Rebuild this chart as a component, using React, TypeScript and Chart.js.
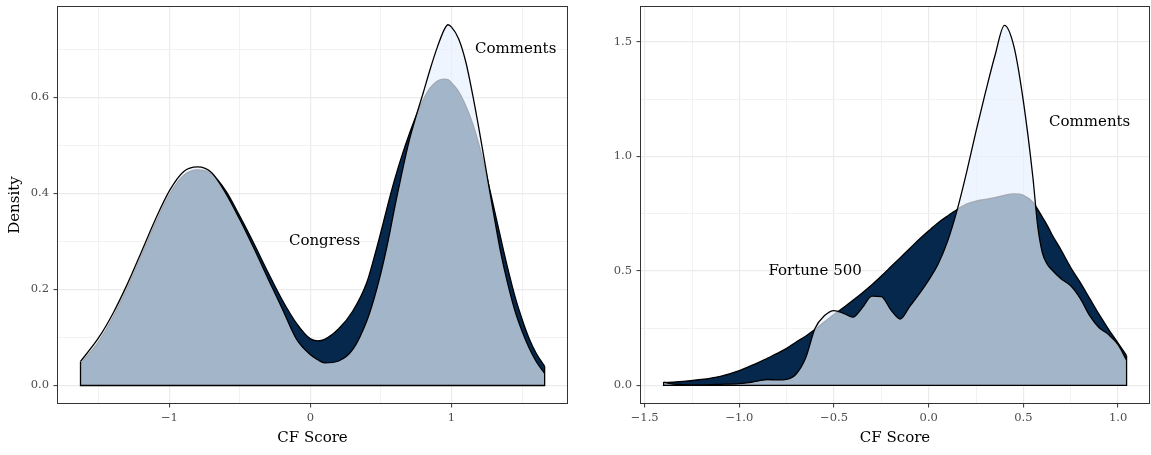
import React, { useEffect, useRef } from 'react';
import { Chart, registerables } from 'chart.js';

Chart.register(...registerables);

const FONT = "'DejaVu Serif', serif";

// ---------- Left panel: Congress vs Comments ----------
const leftX = [
  -1.63, -1.5, -1.4, -1.3, -1.2, -1.1, -1.0, -0.9, -0.8, -0.7, -0.6, -0.5, -0.4, -0.3, -0.2, -0.1,
  0.0, 0.05, 0.1, 0.2, 0.3, 0.4, 0.45, 0.5, 0.55, 0.6, 0.65, 0.7, 0.75, 0.8, 0.85, 0.9, 0.95, 0.975,
  1.0, 1.05, 1.1, 1.15, 1.2, 1.25, 1.3, 1.35, 1.4, 1.45, 1.5, 1.55, 1.6, 1.66,
];
const leftCongress = [
  0.045, 0.092, 0.142, 0.202, 0.269, 0.337, 0.397, 0.437, 0.449, 0.44, 0.405, 0.352, 0.295, 0.235, 0.178, 0.13,
  0.097, 0.093, 0.096, 0.118, 0.155, 0.215, 0.265, 0.32, 0.378, 0.432, 0.48, 0.523, 0.562, 0.595, 0.62, 0.634, 0.638, 0.637,
  0.63, 0.612, 0.583, 0.545, 0.495, 0.435, 0.37, 0.305, 0.242, 0.185, 0.138, 0.098, 0.067, 0.04,
];
const leftComments = [
  0.05, 0.1, 0.15, 0.21, 0.277, 0.345, 0.405, 0.445, 0.455, 0.443, 0.4, 0.345, 0.285, 0.222, 0.16, 0.097,
  0.064, 0.054, 0.047, 0.051, 0.075, 0.135, 0.18, 0.235, 0.3, 0.375, 0.445, 0.51, 0.562, 0.61, 0.66, 0.705, 0.742, 0.751,
  0.746, 0.722, 0.675, 0.605, 0.525, 0.44, 0.355, 0.275, 0.21, 0.155, 0.113, 0.078, 0.05, 0.025,
];
const leftXTicks = [-1.5, -1, -0.5, 0, 0.5, 1, 1.5];
const leftXLabels = ['', '\u22121', '', '0', '', '1', ''];
const leftYTicks = [0, 0.1, 0.2, 0.3, 0.4, 0.5, 0.6, 0.7];
const leftYLabels = ['0.0', '', '0.2', '', '0.4', '', '0.6', ''];
const leftNotes = ['Comments', 'Congress'];
const leftNoteX = [1.455, 0.1];
const leftNoteY = [0.7, 0.3];

// ---------- Right panel: Fortune 500 vs Comments ----------
const rightX = [
  -1.4, -1.35, -1.3, -1.2, -1.1, -1.0, -0.95, -0.9, -0.85, -0.8, -0.75, -0.7, -0.65, -0.6, -0.55, -0.5,
  -0.45, -0.4, -0.35, -0.3, -0.25, -0.2, -0.15, -0.1, -0.05, 0.0, 0.05, 0.1, 0.15, 0.2, 0.25, 0.3, 0.35,
  0.4, 0.45, 0.5, 0.55, 0.575, 0.6, 0.625, 0.65, 0.7, 0.75, 0.8, 0.85, 0.9, 0.95, 1.0, 1.045,
];
const rightFortune = [
  0.012, 0.015, 0.018, 0.026, 0.04, 0.065, 0.082, 0.1, 0.12, 0.14, 0.162, 0.19, 0.215, 0.245, 0.278, 0.31,
  0.34, 0.372, 0.405, 0.44, 0.478, 0.518, 0.558, 0.598, 0.638, 0.675, 0.71, 0.74, 0.768, 0.792, 0.805, 0.812, 0.82,
  0.83, 0.836, 0.83, 0.8, 0.77, 0.735, 0.7, 0.66, 0.59, 0.515, 0.45, 0.38, 0.31, 0.245, 0.185, 0.13,
];
const rightComments = [
  0.015, 0.006, 0.004, 0.003, 0.005, 0.008, 0.012, 0.02, 0.026, 0.024, 0.027, 0.05, 0.12, 0.25, 0.305, 0.327,
  0.315, 0.298, 0.34, 0.39, 0.388, 0.33, 0.29, 0.345, 0.4, 0.46, 0.53, 0.63, 0.765, 0.93, 1.11, 1.28, 1.44,
  1.572, 1.48, 1.24, 0.91, 0.7, 0.58, 0.53, 0.505, 0.465, 0.435, 0.38, 0.305, 0.252, 0.222, 0.178, 0.11,
];
const rightXTicks = [-1.5, -1.25, -1.0, -0.75, -0.5, -0.25, 0, 0.25, 0.5, 0.75, 1.0];
const rightXLabels = ['\u22121.5', '', '\u22121.0', '', '\u22120.5', '', '0.0', '', '0.5', '', '1.0'];
const rightYTicks = [0, 0.25, 0.5, 0.75, 1.0, 1.25, 1.5];
const rightYLabels = ['0.0', '', '0.5', '', '1.0', '', '1.5'];
const rightNotes = ['Comments', 'Fortune 500'];
const rightNoteX = [0.85, -0.6];
const rightNoteY = [1.15, 0.5];

const DARK = '#05284c';
const LIGHT = 'rgba(231,241,255,0.7)';

type PanelCfg = {
  xs: number[];
  dark: number[];
  light: number[];
  xMin: number;
  xMax: number;
  yMin: number;
  yMax: number;
  xTicks: number[];
  xLabels: string[];
  yTicks: number[];
  yLabels: string[];
  notes: string[];
  noteX: number[];
  noteY: number[];
  yTitle: string | null;
  yAxisWidth: number;
  rightPad: number;
};

function makeChart(canvas: HTMLCanvasElement, c: PanelCfg) {
  const pts = (ys: number[]) => c.xs.map((x, i) => ({ x, y: ys[i] }));
  const n = c.xs.length;
  const frame = [
    { x: c.xs[0], y: Math.max(c.dark[0], c.light[0]) },
    { x: c.xs[0], y: 0 },
    { x: c.xs[n - 1], y: 0 },
    { x: c.xs[n - 1], y: Math.max(c.dark[n - 1], c.light[n - 1]) },
  ];

  const notesPlugin = {
    id: 'notes',
    afterDatasetsDraw(chart: any) {
      const { ctx, scales } = chart;
      ctx.save();
      ctx.font = `15px ${FONT}`;
      ctx.fillStyle = '#000';
      ctx.textAlign = 'center';
      ctx.textBaseline = 'middle';
      c.notes.forEach((t, i) => {
        ctx.fillText(t, scales.x.getPixelForValue(c.noteX[i]), scales.y.getPixelForValue(c.noteY[i]));
      });
      ctx.restore();
    },
  };
  const borderPlugin = {
    id: 'panelBorder',
    afterDraw(chart: any) {
      const { ctx, chartArea: a } = chart;
      ctx.save();
      ctx.strokeStyle = '#333333';
      ctx.lineWidth = 1;
      ctx.strokeRect(a.left, a.top, a.right - a.left, a.bottom - a.top);
      ctx.restore();
    },
  };
  const bgPlugin = {
    id: 'bg',
    beforeDraw(chart: any) {
      const { ctx } = chart;
      ctx.save();
      ctx.fillStyle = '#fff';
      ctx.fillRect(0, 0, chart.width, chart.height);
      ctx.restore();
    },
  };

  const gridFor = (labels: string[]) => ({
    color: (ctx: any) => (labels[ctx.index] ? '#ebebeb' : '#f2f2f2'),
    lineWidth: (ctx: any) => (labels[ctx.index] ? 1.2 : 1),
    tickColor: (ctx: any) => (labels[ctx.index] ? '#333333' : 'rgba(0,0,0,0)'),
    tickWidth: 1,
    tickLength: 4,
    drawTicks: true,
  });

  return new Chart(canvas, {
    type: 'line',
    data: {
      datasets: [
        {
          label: 'frame',
          data: frame,
          borderColor: '#000',
          borderWidth: 1.3,
          fill: false,
          pointRadius: 0,
          tension: 0,
          order: 0,
        },
        {
          label: 'light',
          data: pts(c.light),
          borderColor: '#000',
          borderWidth: 1.3,
          backgroundColor: LIGHT,
          fill: 'origin',
          pointRadius: 0,
          cubicInterpolationMode: 'monotone',
          order: 1,
        },
        {
          label: 'dark',
          data: pts(c.dark),
          borderColor: '#000',
          borderWidth: 1.3,
          backgroundColor: DARK,
          fill: 'origin',
          pointRadius: 0,
          cubicInterpolationMode: 'monotone',
          order: 2,
        },
      ],
    } as any,
    options: {
      responsive: false,
      maintainAspectRatio: false,
      animation: false,
      devicePixelRatio: 1,
      layout: { padding: { top: 6.5, right: c.rightPad, left: 0, bottom: 0 } },
      plugins: { legend: { display: false }, tooltip: { enabled: false } },
      scales: {
        x: {
          type: 'linear',
          min: c.xMin,
          max: c.xMax,
          afterBuildTicks: (s: any) => {
            s.ticks = c.xTicks.map((v) => ({ value: v }));
          },
          afterFit: (s: any) => {
            s.height = 51.5;
            s.paddingLeft = 0;
            s.paddingRight = 0;
            s.paddingTop = 0;
            s.paddingBottom = 0;
          },
          ticks: {
            autoSkip: false,
            maxRotation: 0,
            padding: 4,
            color: '#4d4d4d',
            font: { family: FONT, size: 11.5 },
            callback: (_v: any, i: number) => c.xLabels[i],
          },
          grid: gridFor(c.xLabels),
          border: { display: false },
          title: {
            display: true,
            text: 'CF Score',
            color: '#000',
            font: { family: FONT, size: 15 },
            padding: { top: 0, bottom: 8 },
          },
        },
        y: {
          type: 'linear',
          min: c.yMin,
          max: c.yMax,
          afterBuildTicks: (s: any) => {
            s.ticks = c.yTicks.map((v) => ({ value: v }));
          },
          afterFit: (s: any) => {
            s.width = c.yAxisWidth;
            s.paddingLeft = 0;
            s.paddingRight = 0;
            s.paddingTop = 0;
            s.paddingBottom = 0;
          },
          ticks: {
            autoSkip: false,
            padding: 4.5,
            color: '#4d4d4d',
            font: { family: FONT, size: 11.5 },
            callback: (_v: any, i: number) => c.yLabels[i],
          },
          grid: gridFor(c.yLabels),
          border: { display: false },
          title: {
            display: !!c.yTitle,
            text: c.yTitle || '',
            color: '#000',
            font: { family: FONT, size: 15 },
            padding: { top: 6.5, bottom: 0 },
          },
        },
      },
    } as any,
    plugins: [bgPlugin, notesPlugin, borderPlugin],
  });
}

export default function App() {
  const leftRef = useRef<HTMLCanvasElement | null>(null);
  const rightRef = useRef<HTMLCanvasElement | null>(null);

  useEffect(() => {
    const left = makeChart(leftRef.current!, {
      xs: leftX,
      dark: leftCongress,
      light: leftComments,
      xMin: -1.793,
      xMax: 1.822,
      yMin: -0.0375,
      yMax: 0.789,
      xTicks: leftXTicks,
      xLabels: leftXLabels,
      yTicks: leftYTicks,
      yLabels: leftYLabels,
      notes: leftNotes,
      noteX: leftNoteX,
      noteY: leftNoteY,
      yTitle: 'Density',
      yAxisWidth: 57.5,
      rightPad: 7.5,
    });
    const right = makeChart(rightRef.current!, {
      xs: rightX,
      dark: rightFortune,
      light: rightComments,
      xMin: -1.522,
      xMax: 1.166,
      yMin: -0.0787,
      yMax: 1.654,
      xTicks: rightXTicks,
      xLabels: rightXLabels,
      yTicks: rightYTicks,
      yLabels: rightYLabels,
      notes: rightNotes,
      noteX: rightNoteX,
      noteY: rightNoteY,
      yTitle: null,
      yAxisWidth: 65.5,
      rightPad: 1.5,
    });
    return () => {
      left.destroy();
      right.destroy();
    };
  }, []);

  return (
    <div style={{ position: 'fixed', left: 0, top: 0, width: 1151, height: 455, background: '#fff' }}>
      <canvas
        ref={leftRef}
        width={575}
        height={455}
        style={{ position: 'absolute', left: 0, top: 0, width: 575, height: 455 }}
      />
      <canvas
        ref={rightRef}
        width={576}
        height={455}
        style={{ position: 'absolute', left: 575, top: 0, width: 576, height: 455 }}
      />
    </div>
  );
}
